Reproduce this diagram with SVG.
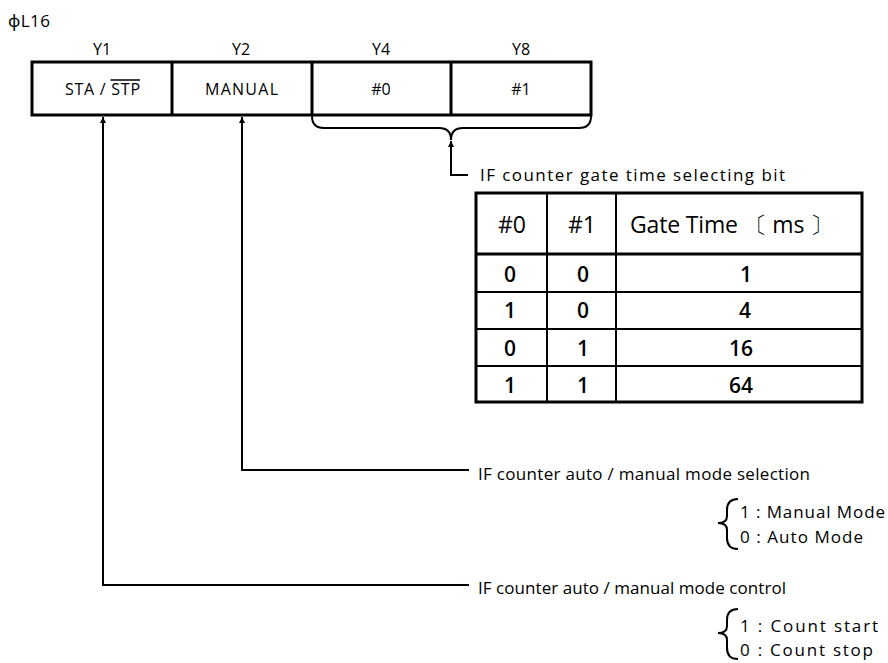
<svg xmlns="http://www.w3.org/2000/svg" width="888" height="663" viewBox="0 0 888 663">
<defs>
<style>
text{font-family:"Open Sans","Noto Sans","Liberation Sans",sans-serif;fill:#000}
.lb{font-size:17px}
.sm{font-size:16px}
.c{text-anchor:middle}
.hd{font-size:23px}
.num{font-size:21px;font-weight:600}
.thick{fill:none;stroke:#000;stroke-width:3}
.thin{fill:none;stroke:#000;stroke-width:2}
.conn{fill:none;stroke:#000;stroke-width:2}
</style>
<marker id="ah" viewBox="0 0 10 10" refX="10" refY="5" markerWidth="11" markerHeight="6" markerUnits="userSpaceOnUse" orient="auto">
<path d="M0,0 L10,5 L0,10 Z" fill="#000"/>
</marker>
</defs>
<rect width="888" height="663" fill="#fff"/>
<text class="lb" x="8" y="27" textLength="42" lengthAdjust="spacing">ϕL16</text>
<g id="register">
<rect class="thick" x="32" y="62" width="559" height="53"/>
<line class="thick" x1="172" y1="62" x2="172" y2="115"/>
<line class="thick" x1="312" y1="62" x2="312" y2="115"/>
<line class="thick" x1="451" y1="62" x2="451" y2="115"/>
<text class="sm c" x="102" y="55">Y1</text>
<text class="sm c" x="241" y="55">Y2</text>
<text class="sm c" x="381" y="55">Y4</text>
<text class="sm c" x="521" y="55">Y8</text>
</g>
<g id="bit-y1"><text class="sm" x="65" y="95" textLength="75" lengthAdjust="spacing">STA / STP</text><line x1="110.5" y1="80" x2="140" y2="80" stroke="#000" stroke-width="1.5"/></g>
<g id="bit-y2"><text class="sm" x="205" y="95" textLength="73" lengthAdjust="spacing">MANUAL</text></g>
<g id="bit-y4"><text class="sm c" x="381" y="95">#0</text></g>
<g id="bit-y8"><text class="sm c" x="521" y="95">#1</text></g>
<g id="connectors">
<path class="conn" d="M312,116 Q312,128 324,128 L439,128 Q451,128 451,140 Q451,128 463,128 L579,128 Q591,128 591,116"/>
<path class="conn" d="M468,175 L451,175 L451,141" marker-end="url(#ah)"/>
<path class="conn" d="M469,470 L242,470 L242,117" marker-end="url(#ah)"/>
<path class="conn" d="M469,585 L103,585 L103,117" marker-end="url(#ah)"/>
<path class="conn" d="M738,499 Q727,499 727,510 L727,516 Q727,523 718,523 Q727,523 727,530 L727,538 Q727,549 738,549"/>
<path class="conn" d="M738,609 Q727,609 727,620 L727,626 Q727,633 718,633 Q727,633 727,640 L727,648 Q727,659 738,659"/>
</g>
<g id="label-gate"><text class="lb" x="480" y="181" textLength="305" lengthAdjust="spacing">IF counter gate time selecting bit</text></g>
<g id="gate-table">
<rect class="thick" x="476" y="193" width="386" height="209"/>
<line class="thin" x1="547" y1="193" x2="547" y2="402"/>
<line class="thin" x1="616" y1="193" x2="616" y2="402"/>
<line class="thick" x1="476" y1="254" x2="862" y2="254"/>
<line class="thin" x1="476" y1="292" x2="862" y2="292"/>
<line class="thin" x1="476" y1="329" x2="862" y2="329"/>
<line class="thin" x1="476" y1="366" x2="862" y2="366"/>
<text class="hd c" x="512" y="233">#0</text>
<text class="hd c" x="582" y="233">#1</text>
<text class="hd" x="630" y="233" textLength="203" lengthAdjust="spacing">Gate Time 〔 ms 〕</text>
<text class="num c" x="510" y="282">0</text><text class="num c" x="583" y="282">0</text><text class="num c" x="746" y="282">1</text>
<text class="num c" x="510" y="318">1</text><text class="num c" x="583" y="318">0</text><text class="num c" x="745" y="318">4</text>
<text class="num c" x="510" y="356">0</text><text class="num c" x="583" y="356">1</text><text class="num c" x="741" y="356">16</text>
<text class="num c" x="510" y="393">1</text><text class="num c" x="583" y="393">1</text><text class="num c" x="741" y="393">64</text>
</g>
<g id="label-selection">
<text class="lb" x="478" y="480" textLength="332" lengthAdjust="spacing">IF counter auto / manual mode selection</text>
<text class="lb" x="740" y="518" textLength="145" lengthAdjust="spacing">1 : Manual Mode</text>
<text class="lb" x="740" y="543" textLength="123" lengthAdjust="spacing">0 : Auto Mode</text>
</g>
<g id="label-control">
<text class="lb" x="478" y="594" textLength="308" lengthAdjust="spacing">IF counter auto / manual mode control</text>
<text class="lb" x="740" y="632" textLength="138" lengthAdjust="spacing">1 : Count start</text>
<text class="lb" x="740" y="656" textLength="133" lengthAdjust="spacing">0 : Count stop</text>
</g>
</svg>
